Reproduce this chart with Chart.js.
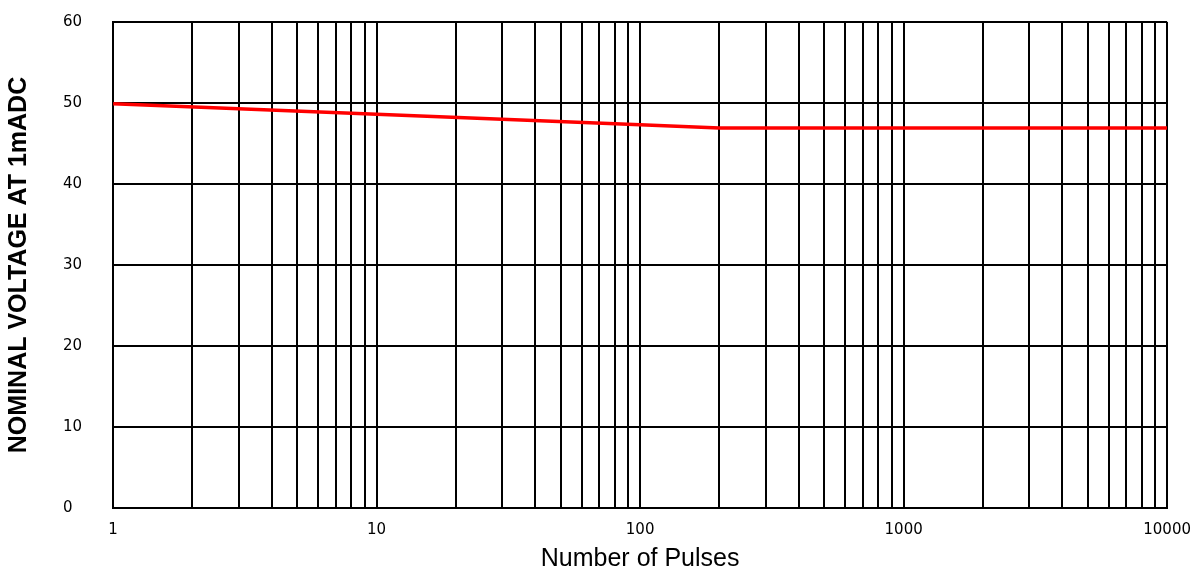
<!DOCTYPE html>
<html>
<head>
<meta charset="utf-8">
<script src="https://cdn.jsdelivr.net/npm/chart.js@4/dist/chart.umd.min.js"></script>
<style>
  html, body { margin: 0; padding: 0; background: #fff; }
  #wrap { width: 1191px; height: 574px; }
</style>
</head>
<body>
<div id="wrap"><canvas id="chart"></canvas></div>
<script>
// pulses vs nominal voltage
const pulses = [1, 10, 100, 200, 1000, 10000];
const voltage = [49.9, 48.6, 47.3, 46.9, 46.9, 46.9];

// vertical grid lines (1..9 per decade) and labelled decades
const gridValues = [];
for (const d of [1, 10, 100, 1000]) {
  for (let m = 1; m < 10; m++) gridValues.push(m * d);
}
gridValues.push(10000);
const decadeLabels = [1, 10, 100, 1000, 10000];

const tickFont = { family: 'DejaVu Sans', size: 15 };

new Chart(document.getElementById('chart'), {
  type: 'line',
  data: {
    datasets: [{
      data: pulses.map((p, i) => ({ x: p, y: voltage[i] })),
      borderColor: '#ff0000',
      borderWidth: 3.5,
      pointRadius: 0,
      tension: 0,
      fill: false,
    }],
  },
  options: {
    responsive: true,
    maintainAspectRatio: false,
    animation: false,
    layout: { padding: { top: 22, right: 0, left: 0, bottom: 0 } },
    plugins: {
      legend: { display: false },
      tooltip: { enabled: false },
    },
    scales: {
      x: {
        type: 'logarithmic',
        min: 1,
        max: 10000,
        afterBuildTicks: axis => {
          axis.ticks = gridValues.map(v => ({ value: v }));
        },
        ticks: {
          autoSkip: false,
          maxRotation: 0,
          color: '#000',
          font: tickFont,
          padding: 0,
          callback: v => (decadeLabels.includes(v) ? String(v) : ''),
        },
        grid: { color: '#000', lineWidth: 2, tickColor: 'transparent', tickLength: 13 },
        border: { color: '#000', width: 2 },
        title: {
          display: true,
          text: 'Number of Pulses',
          color: '#000',
          font: { family: 'Liberation Sans', size: 25 },
          padding: { top: 5, bottom: 0 },
        },
      },
      y: {
        min: 0,
        max: 60,
        weight: 0,
        ticks: {
          stepSize: 10,
          color: '#000',
          font: tickFont,
          padding: 0,
          crossAlign: 'far',
        },
        grid: { color: '#000', lineWidth: 2, tickColor: 'transparent', tickLength: 31 },
        border: { color: '#000', width: 2 },
      },
      // outer axis only carries the y title, so the tick labels can sit left-aligned
      yTitle: {
        type: 'linear',
        position: 'left',
        weight: 1,
        min: 0,
        max: 60,
        ticks: { display: false },
        grid: { display: false },
        border: { display: false },
        title: {
          display: true,
          text: 'NOMINAL VOLTAGE AT 1mADC',
          color: '#000',
          font: { family: 'Liberation Sans', size: 25, weight: 'bold' },
          padding: { top: 4, bottom: 21 },
        },
      },
    },
  },
});
</script>
</body>
</html>
